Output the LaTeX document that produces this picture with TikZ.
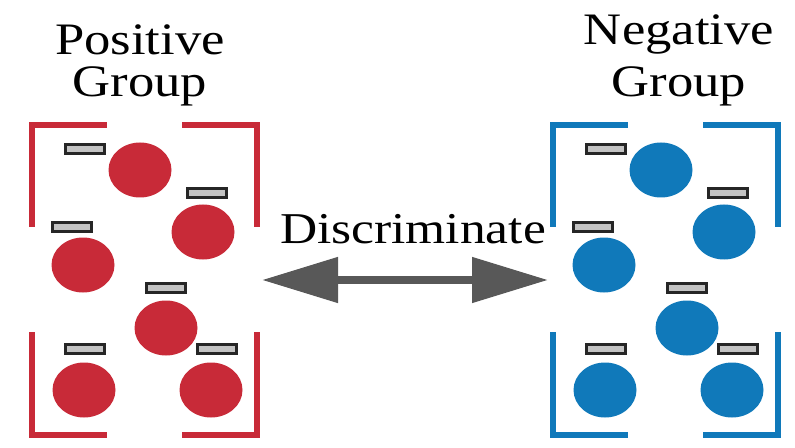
\documentclass[tikz,border=0pt]{standalone}
\usepackage{fontspec}
\setmainfont{Liberation Serif}[FakeStretch=1.17]
\usetikzlibrary{shapes.geometric,arrows.meta,positioning,calc}

\definecolor{posred}{RGB}{200,42,56}
\definecolor{negblue}{RGB}{16,121,186}
\definecolor{tagfill}{RGB}{195,195,195}
\definecolor{arrowgray}{RGB}{88,88,88}

\begin{document}
\begin{tikzpicture}[x=0.5pt,y=-0.5pt]
  \tikzstyle{sample}=[shape=ellipse, draw=none, minimum width=31.5pt, minimum height=27.5pt, inner sep=0pt]
  \tikzstyle{tag}=[shape=rectangle, draw=black!85, fill=tagfill, line width=1.6pt, minimum width=19.4pt, minimum height=4.4pt, inner sep=0pt]
  \tikzstyle{bracket}=[line width=3pt, line join=miter]
  \tikzstyle{title}=[align=center, inner sep=0pt, anchor=north, font=\fontsize{22.5pt}{21pt}\selectfont]
  \tikzstyle{connection}=[color=arrowgray, line width=4pt, {Triangle[length=38pt,width=22pt]}-{Triangle[length=38pt,width=22pt]}]

  \useasboundingbox (0,0) rectangle (795,448);

  % the two groups: brackets, samples and their tags
  \foreach \dx/\col/\g in {0/posred/pos, 521/negblue/neg} {
    \draw[bracket,\col] ({32+\dx},227) |- ({107+\dx},125);
    \draw[bracket,\col] ({182+\dx},125) -| ({257+\dx},227);
    \draw[bracket,\col] ({32+\dx},332) |- ({107+\dx},435);
    \draw[bracket,\col] ({182+\dx},435) -| ({257+\dx},332);
    \foreach \ex/\ey/\tx/\ty [count=\i] in
      {140/170/85/149, 203/232/207/193, 83/265/72/227,
       166/328/166/288, 84/390/85/349, 211/390/217/349} {
      \node [sample,fill=\col] (\g s\i) at ({\ex+\dx},\ey) {};
      \node [tag] (\g t\i) at ({\tx+\dx},\ty) {};
    }
  }

  \node [title] (postitle) at (140,24) {Positive\\Group};
  \node [title] (negtitle) at (679,14) {Negative\\[5pt]Group};

  \coordinate (posend) at (262,280);
  \coordinate (negend) at (548,280);
  \draw[connection] (posend) -- (negend);
  \node [inner sep=0pt, anchor=base, font=\fontsize{22pt}{24pt}\selectfont] (disc) at (413,243) {Discriminate};
\end{tikzpicture}
\end{document}
